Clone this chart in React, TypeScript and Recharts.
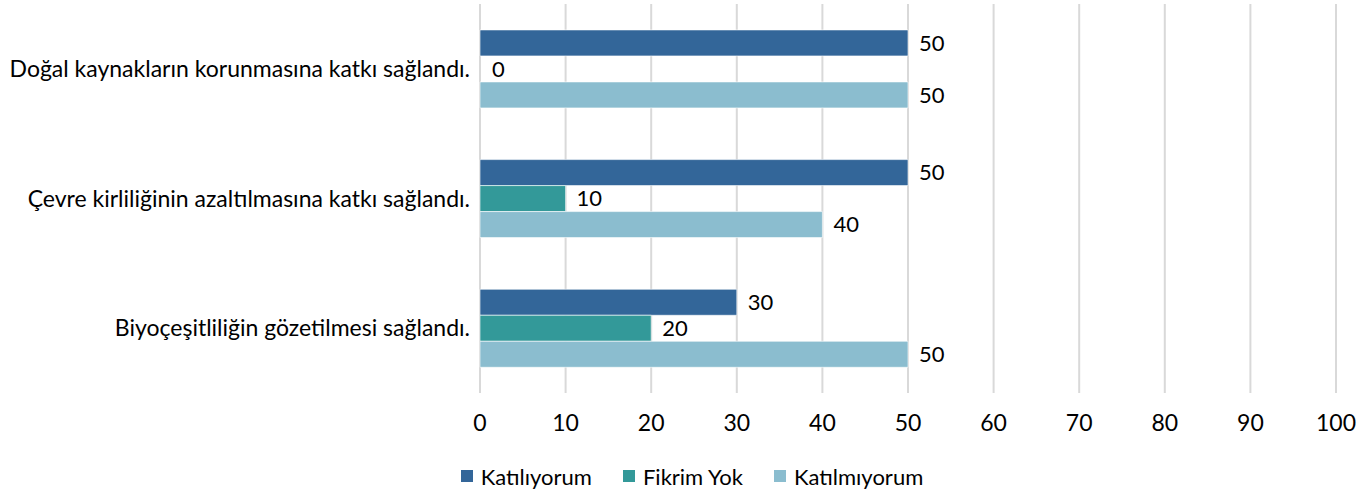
import { BarChart, Bar, XAxis, YAxis, CartesianGrid, Legend, LabelList, Rectangle } from 'recharts'

const categories = [
  'Doğal kaynakların korunmasına katkı sağlandı.',
  'Çevre kirliliğinin azaltılmasına katkı sağlandı.',
  'Biyoçeşitliliğin gözetilmesi sağlandı.',
]
const katiliyorum = [50, 50, 30]
const fikrimYok = [0, 10, 20]
const katilmiyorum = [50, 40, 50]
const xTicks = [0, 10, 20, 30, 40, 50, 60, 70, 80, 90, 100]

const seriesInfo = [
  { key: 'katiliyorum', name: 'Katılıyorum', color: '#336699' },
  { key: 'fikrimYok', name: 'Fikrim Yok', color: '#339999' },
  { key: 'katilmiyorum', name: 'Katılmıyorum', color: '#8bbdcf' },
]

const data = categories.map((c, i) => ({
  name: c,
  katiliyorum: katiliyorum[i],
  fikrimYok: fikrimYok[i],
  katilmiyorum: katilmiyorum[i],
}))

const FONT = 'Lato, "Open Sans", sans-serif'

function LegendBox() {
  return (
    <div style={{ display: 'flex', justifyContent: 'center', gap: 31, height: 30, alignItems: 'center', fontFamily: FONT, fontSize: 22, color: '#000', paddingLeft: 48 }}>
      {seriesInfo.map((s) => (
        <div key={s.key} style={{ display: 'flex', alignItems: 'center' }}>
          <span style={{ width: 12, height: 12, background: s.color, display: 'inline-block', marginRight: 8 }} />
          <span>{s.name}</span>
        </div>
      ))}
    </div>
  )
}

// zero-length bars draw nothing but still get their value label
const barShape = (key: string) => (props: any) =>
  props.payload && props.payload[key] === 0 ? <g /> : <Rectangle {...props} />

export default function App() {
  return (
    <div>
      <style>{'body{margin:0;background:#fff}'}</style>
      <BarChart
        width={1372}
        height={495}
        data={data}
        layout="vertical"
        margin={{ top: 4, right: 36, left: 0, bottom: 4 }}
        barCategoryGap="20%"
        barGap={0}
      >
        <CartesianGrid horizontal={false} stroke="#d9d9d9" strokeWidth={2} />
        <XAxis
          type="number"
          domain={[0, 100]}
          ticks={xTicks}
          axisLine={false}
          tickLine={false}
          tickSize={0}
          tickMargin={22}
          height={68}
          tick={{ fill: '#000', fontSize: 23, fontFamily: FONT }}
        />
        <YAxis
          type="category"
          dataKey="name"
          width={480}
          axisLine={false}
          tickLine={false}
          tickSize={0}
          tickMargin={10}
          tick={{ fill: '#000', fontSize: 23, fontFamily: FONT }}
        />
        <Legend verticalAlign="bottom" height={30} content={() => <LegendBox />} />
        {seriesInfo.map((s) => (
          <Bar
            key={s.key}
            dataKey={s.key}
            name={s.name}
            fill={s.color}
            stroke="#ffffff"
            strokeOpacity={0.6}
            strokeWidth={1}
            minPointSize={1}
            shape={barShape(s.key)}
            isAnimationActive={false}
          >
            <LabelList dataKey={s.key} position="right" offset={11} fill="#000" fontSize={22} fontFamily={FONT} />
          </Bar>
        ))}
      </BarChart>
    </div>
  )
}
